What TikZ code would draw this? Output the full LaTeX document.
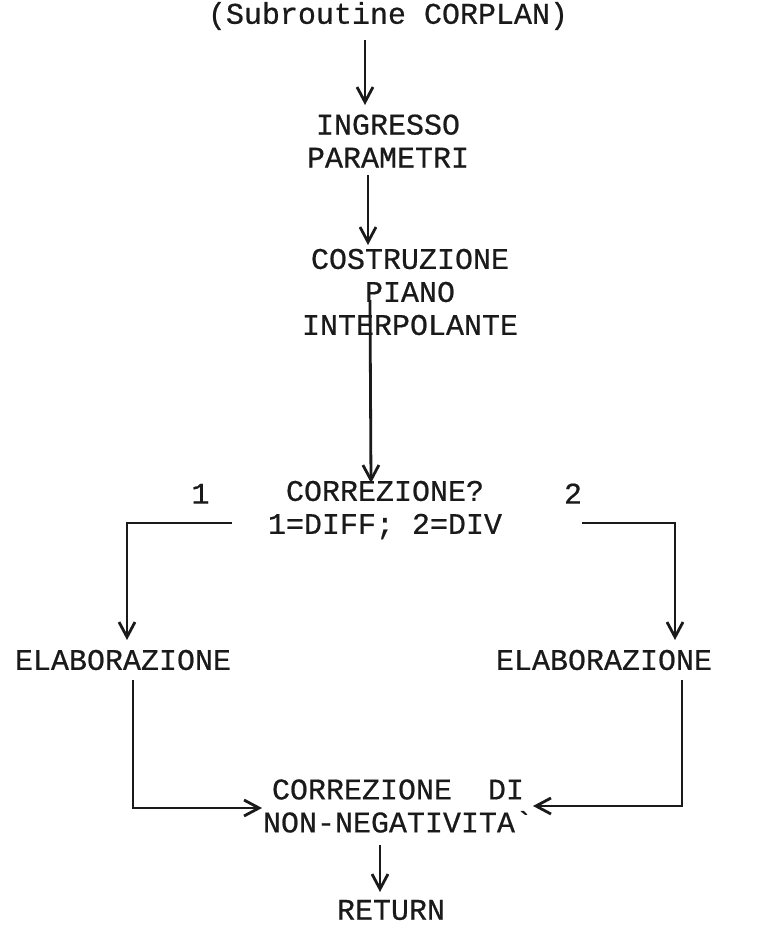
\documentclass[tikz,border=0pt]{standalone}
\usepackage{fontspec}
\newfontfamily\plotfont[FakeBold=0.6]{Liberation Mono}
\usetikzlibrary{arrows.meta}
\definecolor{cInk}{HTML}{1A1A1A}

\begin{document}
\begin{tikzpicture}[x=0.5pt, y=-0.5pt,
    txt/.style={font=\plotfont\fontsize{15}{16.5}\selectfont, text=cInk,
                align=center, inner sep=0pt},
    flow/.style={draw=cInk, line width=1.4pt,
                 -{Straight Barb[length=7.5pt,width=8pt,line width=1.4pt]}}]
  \useasboundingbox (0,0) rectangle (778,927);
  % blocks
  \node[txt] (title)  at (388,16)  {(Subroutine CORPLAN)};
  \node[txt] (ingr)   at (388,141) {INGRESSO\\PARAMETRI};
  \node[txt] (costr)  at (410,292) {COSTRUZIONE\\PIANO\\INTERPOLANTE};
  \node[txt] (quest)  at (385,510) {CORREZIONE?\\1=DIFF; 2=DIV};
  \node[txt] (elabA)  at (123,660) {ELABORAZIONE};
  \node[txt] (elabB)  at (604,660) {ELABORAZIONE};
  \node[txt] (nonneg) at (398,806) {CORREZIONE\ \ DI\\NON-NEGATIVITA\textasciigrave};
  \node[txt] (ret)    at (391,910) {RETURN};
  % main line
  \draw[flow] ([xshift=-11.5pt,yshift=-12pt]title.center) -- ([xshift=-11.5pt,yshift=18pt]ingr.center);
  \draw[flow] ([xshift=-10pt,yshift=-17pt]ingr.center) -- ([xshift=-21pt,yshift=23.5pt]costr.center);
  \draw[flow] ([xshift=-20pt,yshift=-4pt]costr.center) -- ([xshift=-7pt,yshift=13.5pt]quest.center);
  % branches
  \draw[flow] ([xshift=-76.5pt,yshift=-6.5pt]quest.center) -| node[txt, pos=0.15, above=9pt] (lblA) {1}
    ([xshift=2pt,yshift=10pt]elabA.center);
  \draw[flow] ([xshift=98.5pt,yshift=-6.5pt]quest.center) -| node[txt, pos=0, above=9pt, xshift=-4.5pt] (lblB) {2}
    ([xshift=35.5pt,yshift=10pt]elabB.center);
  \draw[flow] ([xshift=5pt,yshift=-10pt]elabA.center) |- ([xshift=-68pt,yshift=-1pt]nonneg.center);
  \draw[flow] ([xshift=39pt,yshift=-10pt]elabB.center) |- ([xshift=67.5pt]nonneg.center);
  \draw[flow] ([xshift=-9pt,yshift=-19.5pt]nonneg.center) -- ([xshift=-5.5pt,yshift=9pt]ret.center);
\end{tikzpicture}
\end{document}
